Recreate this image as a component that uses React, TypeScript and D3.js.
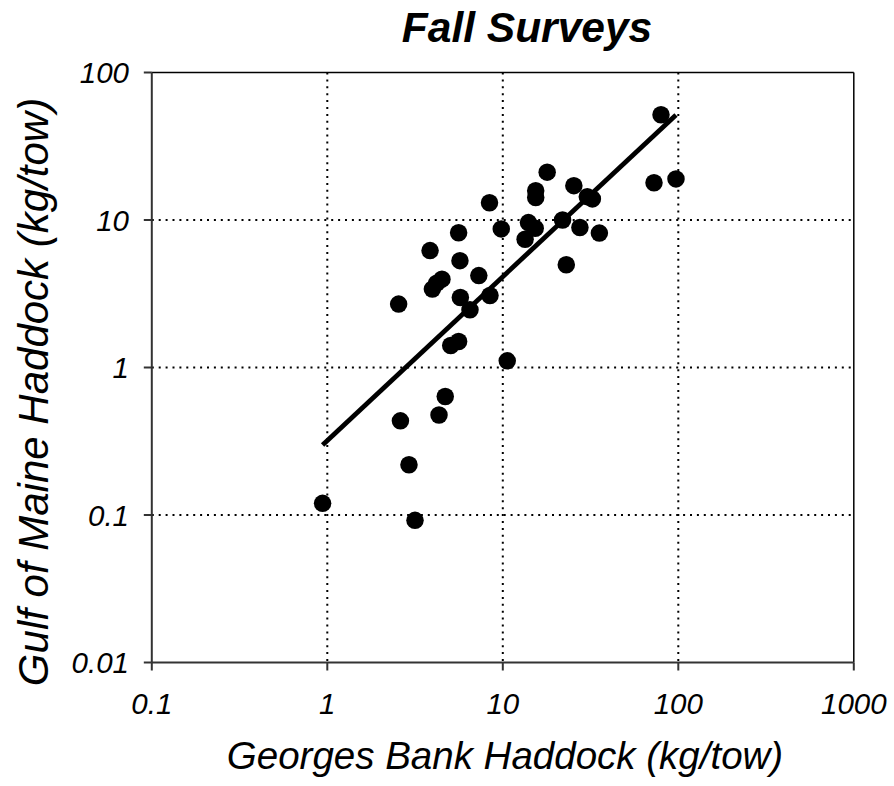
import React from 'react';
import * as d3 from 'd3';

// Fall survey catch rates (kg/tow)
const georgesBank = [17.9, 15.4, 15.4, 25.4, 72.7, 97, 30.3, 32.4, 8.4, 21.9, 14.0, 15.3, 9.8, 27.5, 35.5, 13.4, 5.6, 3.85, 23.0, 5.7, 7.3, 4.5, 4.2, 3.97, 2.55, 5.73, 8.45, 6.5, 5.6, 5.05, 10.6, 4.7, 4.33, 2.61, 2.92, 0.94, 3.16, 79.7];
const gulfOfMaine = [21.1, 15.8, 14.2, 17.1, 17.9, 19.0, 14.4, 13.9, 13.1, 10.0, 9.6, 8.8, 8.7, 8.9, 8.15, 7.4, 8.2, 6.2, 4.97, 5.3, 4.2, 3.97, 3.73, 3.4, 2.69, 2.98, 3.08, 2.46, 1.5, 1.41, 1.11, 0.636, 0.476, 0.435, 0.219, 0.12, 0.092, 51.7];

// log-log regression: log10(y) = a + b * log10(x)
const fitIntercept = -0.495;
const fitSlope = 1.111;

const xTicks = [0.1, 1, 10, 100, 1000];
const yTicks = [0.01, 0.1, 1, 10, 100];
const xTickLabels = ['0.1', '1', '10', '100', '1000'];
const yTickLabels = ['0.01', '0.1', '1', '10', '100'];

const W = 894, H = 786;
const left = 151.8, right = 853.8, top = 72.5, bottom = 662.5;
const font = '"Liberation Sans", Arial, sans-serif';

export default function App() {
  const x = d3.scaleLog().domain([0.1, 1000]).range([left, right]);
  const y = d3.scaleLog().domain([0.01, 100]).range([bottom, top]);

  const points = georgesBank.map((g, i) => ({ g, m: gulfOfMaine[i] }));
  const [xmin, xmax] = d3.extent(georgesBank) as [number, number];
  const fit = [xmin, xmax].map(v => [v, Math.pow(10, fitIntercept + fitSlope * Math.log10(v))]);
  const line = d3.line<number[]>().x(d => x(d[0])).y(d => y(d[1]));

  return (
    <svg width={W} height={H} style={{ position: 'absolute', left: 0, top: 0, background: '#fff' }}>
      {/* grid */}
      {xTicks.slice(1, -1).map(t => (
        <line key={'gx' + t} x1={x(t)} x2={x(t)} y1={top} y2={bottom}
          stroke="#000" strokeWidth={2} strokeDasharray="2 4.9" />
      ))}
      {yTicks.slice(1, -1).map(t => (
        <line key={'gy' + t} x1={left} x2={right} y1={y(t)} y2={y(t)}
          stroke="#000" strokeWidth={2} strokeDasharray="2 4.9" />
      ))}

      {/* frame */}
      <line x1={left} x2={right} y1={top} y2={top} stroke="#000" strokeWidth={1.5} />
      <line x1={right} x2={right} y1={top} y2={bottom} stroke="#000" strokeWidth={1.5} />
      <line x1={left} x2={right} y1={bottom} y2={bottom} stroke="#333" strokeWidth={2} />
      <line x1={left} x2={left} y1={top} y2={bottom} stroke="#333" strokeWidth={2} />

      {/* ticks */}
      {xTicks.map((t, i) => (
        <g key={'tx' + t}>
          <line x1={x(t)} x2={x(t)} y1={bottom} y2={bottom + 8} stroke="#333" strokeWidth={2} />
          <text x={x(t)} y={714} textAnchor="middle" fontFamily={font} fontStyle="italic" fontSize={29.5}>
            {xTickLabels[i]}
          </text>
        </g>
      ))}
      {yTicks.map((t, i) => (
        <g key={'ty' + t}>
          <line x1={left - 8} x2={left} y1={y(t)} y2={y(t)} stroke="#333" strokeWidth={2} />
          <text x={129} y={y(t) + 10.5} textAnchor="end" fontFamily={font} fontStyle="italic" fontSize={29.5}>
            {yTickLabels[i]}
          </text>
        </g>
      ))}

      {/* regression line */}
      <path d={line(fit) || ''} fill="none" stroke="#000" strokeWidth={4.8} />

      {/* points */}
      {points.map((p, i) => (
        <circle key={i} cx={x(p.g)} cy={y(p.m)} r={8.75} fill="#000" />
      ))}

      {/* titles */}
      <text x={527} y={42} textAnchor="middle" fontFamily={font} fontStyle="italic" fontWeight="bold" fontSize={42.5}>
        Fall Surveys
      </text>
      <text x={505} y={769} textAnchor="middle" fontFamily={font} fontStyle="italic" fontSize={38.5}>
        Georges Bank Haddock (kg/tow)
      </text>
      <text transform="translate(48,392) rotate(-90)" textAnchor="middle" fontFamily={font} fontStyle="italic" fontSize={42}>
        Gulf of Maine Haddock (kg/tow)
      </text>
    </svg>
  );
}
